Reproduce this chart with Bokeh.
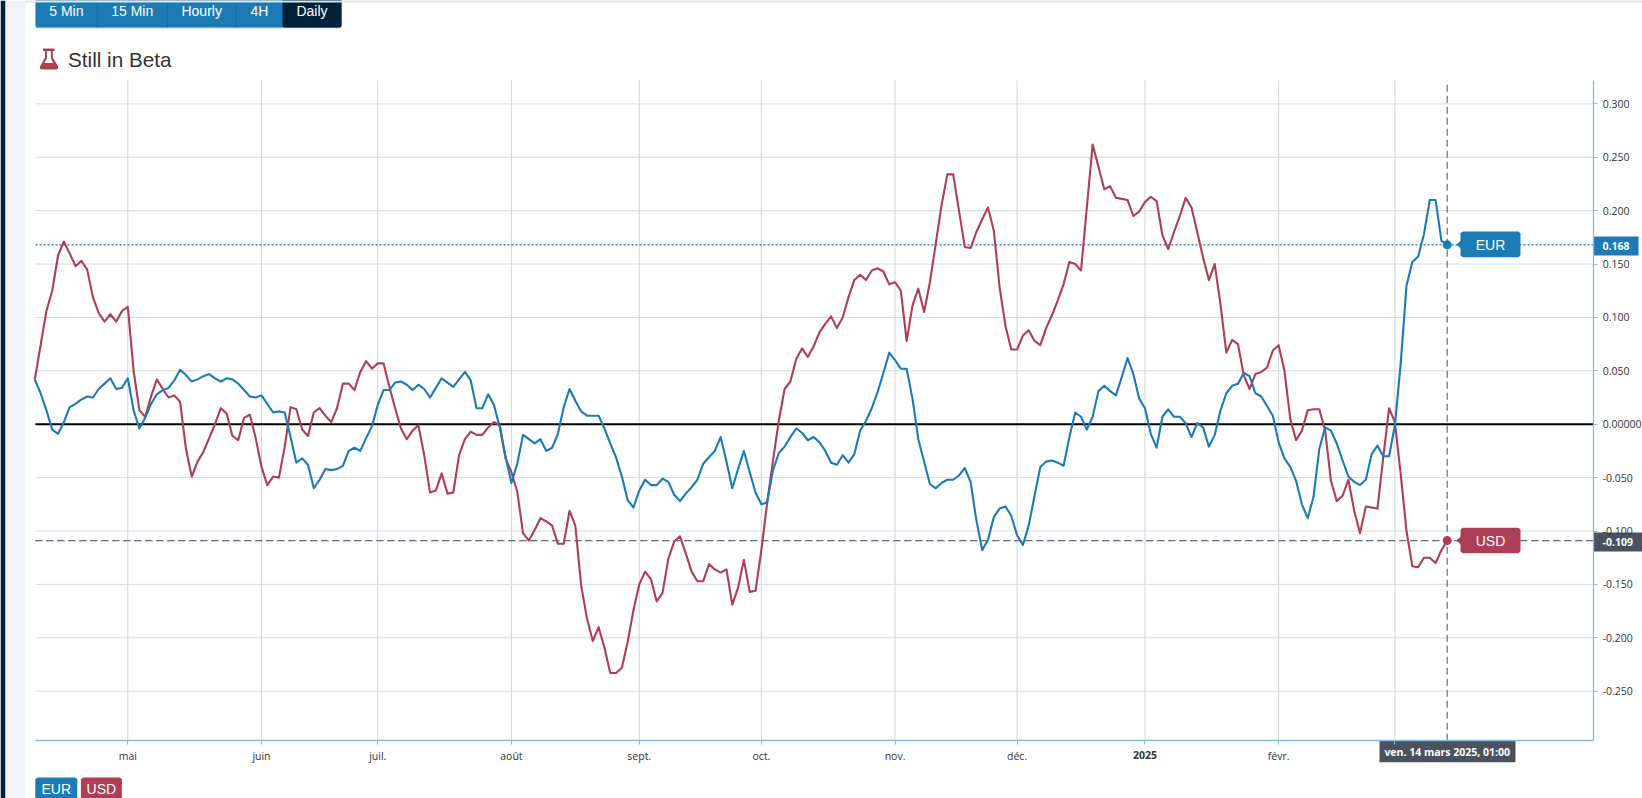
import math
from bokeh.plotting import figure
from bokeh.embed import file_html
from bokeh.resources import INLINE
from bokeh.core.properties import value
from bokeh.models import Range1d, FixedTicker

eur = [
 .042,.029,.013,-.005,-.009,.002,.016,.019,.023,.026,.025,.033,.038,.043,.033,.034,.043,.013,-.004,.006,
 .019,.028,.032,.034,.041,.051,.046,.040,.042,.045,.047,.043,.040,.043,.042,.038,.032,.026,.025,.027,
 .019,.011,.012,.011,-.012,-.036,-.032,-.038,-.060,-.052,-.042,-.043,-.042,-.039,-.025,-.022,-.025,-.013,-.002,.018,
 .032,.032,.039,.040,.037,.032,.037,.033,.025,.034,.043,.039,.035,.042,.049,.041,.015,.015,.028,.018,
 -.003,-.031,-.055,-.037,-.010,-.014,-.018,-.014,-.025,-.022,-.009,.016,.033,.022,.012,.008,.008,.008,-.004,-.018,
 -.031,-.049,-.071,-.078,-.062,-.052,-.057,-.057,-.051,-.054,-.066,-.072,-.065,-.059,-.052,-.037,-.031,-.025,-.012,-.035,
 -.060,-.042,-.025,-.045,-.064,-.075,-.073,-.043,-.027,-.021,-.012,-.004,-.008,-.015,-.012,-.017,-.025,-.036,-.038,-.029,
 -.036,-.028,-.006,.003,.015,.030,.048,.067,.060,.052,.052,.024,-.014,-.035,-.056,-.060,-.055,-.052,-.052,-.048,
 -.041,-.054,-.090,-.118,-.108,-.087,-.079,-.077,-.086,-.104,-.113,-.095,-.067,-.040,-.035,-.034,-.036,-.039,-.012,.011,
 .007,-.005,.007,.031,.036,.031,.027,.044,.062,.047,.024,.015,-.009,-.022,.007,.014,.007,.007,.001,-.012,
 .001,-.003,-.021,-.010,.013,.029,.036,.038,.048,.045,.029,.026,.017,.008,-.017,-.032,-.040,-.053,-.075,-.088,
 -.068,-.023,-.003,-.006,-.018,-.034,-.049,-.054,-.057,-.052,-.028,-.020,-.030,-.030,-.001,.057,.130,.152,.157,.178,
 .210,.210,.172,.168,
]
usd = [
 .042,.074,.106,.125,.158,.171,.160,.148,.153,.145,.119,.104,.096,.103,.096,.106,.110,.050,.013,.007,
 .026,.042,.033,.025,.027,.021,-.023,-.049,-.035,-.026,-.013,.000,.015,.010,-.011,-.015,.006,.009,-.013,-.040,
 -.057,-.049,-.050,-.021,.016,.014,-.005,-.011,.011,.015,.008,.002,.015,.038,.038,.032,.049,.059,.052,.057,
 .057,.035,.015,-.004,-.014,-.006,-.001,-.029,-.064,-.062,-.046,-.065,-.064,-.029,-.014,-.007,-.010,-.010,-.003,.002,
 -.001,-.032,-.045,-.063,-.102,-.109,-.099,-.088,-.091,-.095,-.112,-.112,-.081,-.095,-.151,-.182,-.203,-.190,-.209,-.233,
 -.233,-.228,-.204,-.174,-.150,-.138,-.145,-.166,-.158,-.126,-.110,-.105,-.121,-.138,-.147,-.147,-.131,-.136,-.139,-.136,
 -.169,-.153,-.127,-.157,-.156,-.118,-.074,-.034,.003,.033,.040,.061,.071,.063,.073,.086,.094,.101,.090,.100,
 .119,.135,.140,.135,.144,.146,.143,.131,.133,.125,.078,.111,.127,.105,.133,.169,.205,.234,.234,.200,
 .166,.165,.180,.192,.203,.181,.128,.092,.070,.070,.083,.088,.078,.074,.090,.102,.116,.131,.152,.150,
 .144,.203,.262,.241,.220,.223,.212,.211,.210,.195,.199,.208,.213,.209,.177,.164,.180,.195,.212,.203,
 .180,.156,.135,.150,.112,.067,.079,.075,.046,.033,.047,.049,.053,.069,.074,.050,.005,-.015,-.006,.013,
 .014,.014,-.006,-.053,-.072,-.067,-.052,-.081,-.102,-.077,-.078,-.079,-.031,.015,.002,-.047,-.100,-.133,-.134,-.125,
 -.125,-.130,-.118,-.109,
]
month_ticks = [16, 39, 59, 82, 104, 125, 148, 169, 191, 214, 234]
month_labels = ["mai", "juin", "juil.", "août", "sept.", "oct.", "nov.", "déc.", "", "févr.", ""]
year_tick = 191
year_label = "2025"
y_ticks = [0.3, 0.25, 0.2, 0.15, 0.1, 0.05, 0.0, -0.05, -0.1, -0.15, -0.2, -0.25]
y_labels = ["0.300", "0.250", "0.200", "0.150", "0.100", "0.050", "0.00000", "-0.050", "-0.100", "-0.150", "-0.200", "-0.250"]
buttons = ["5 Min", "15 Min", "Hourly", "4H", "Daily"]
button_edges = [35, 96.7, 166.7, 235.7, 282, 341]
date_label = "ven. 14 mars 2025, 01:00"

BLUE, RED, DARK, SLATE = "#1c7ab5", "#ae3e55", "#02223a", "#4a5260"
GRID_H, GRID_V, AXIS = "#d8dadd", "#ccd6dd", "#86bbd8"
TICK_FONT = "Open Sans"

# plot area limits, in data units
X0, X1 = 0.12, 268.2
Y0, Y1 = -0.2965, 0.3219
last = len(eur) - 1
xs = list(range(len(eur)))

p = figure(width=1642, height=798, output_backend="svg", toolbar_location=None,
           x_range=Range1d(-5.90, 276.6), y_range=Range1d(-0.3505, 0.3968),
           y_axis_location="right", min_border=0, margin=0, outline_line_color=None)
p.extra_x_ranges = {"page": Range1d(0, 1642)}
p.extra_y_ranges = {"page": Range1d(798, 0)}
p.background_fill_color = "white"
p.border_fill_color = "white"
p.grid.visible = False

p.xaxis.ticker = FixedTicker(ticks=month_ticks)
p.xaxis.major_label_overrides = dict(zip(month_ticks, month_labels))
p.xaxis.fixed_location = Y0
p.xaxis.bounds = (X0, X1)
p.yaxis.ticker = FixedTicker(ticks=y_ticks)
p.yaxis.major_label_overrides = dict(zip(y_ticks, y_labels))
p.yaxis.fixed_location = X1
p.yaxis.bounds = (Y0, Y1)
for ax in (p.xaxis[0], p.yaxis[0]):
    ax.axis_line_color = AXIS
    ax.axis_line_width = 1.3
    ax.major_tick_line_color = AXIS
    ax.minor_tick_line_color = None
    ax.major_tick_in = 0
    ax.major_tick_out = 4
    ax.major_label_text_font = TICK_FONT
    ax.major_label_text_font_size = "10.5px"
    ax.major_label_text_color = "#333333"
    ax.major_label_standoff = 5
p.yaxis[0].major_tick_line_color = "#aab4bb"
p.xaxis[0].major_label_standoff = 4

# grid lines
p.segment(x0=month_ticks, y0=[Y0] * len(month_ticks), x1=month_ticks, y1=[Y1] * len(month_ticks),
          line_color=GRID_V, line_width=1)
p.segment(x0=[X0] * len(y_ticks), y0=y_ticks, x1=[X1] * len(y_ticks), y1=y_ticks, line_color=GRID_H, line_width=1)

# zero and last-value lines
p.line([X0, X1], [0, 0], line_color="black", line_width=2)
p.line([X0, X1], [eur[-1]] * 2, line_color="#0f6fae", line_width=1.3, line_dash="2 2")
p.line([X0, X1], [usd[-1]] * 2, line_color="#5f6f80", line_width=1.2, line_dash="7 4")
p.line([X0, X1], [usd[-1]] * 2, line_color=RED, line_width=1.2, line_dash="1 10")

p.line(xs, usd, line_color=RED, line_width=2.1, line_join="round")
p.line(xs, eur, line_color=BLUE, line_width=2.1, line_join="round")
p.line([last, last], [Y0, Y1], line_color="#5f6f80", line_width=1.2, line_dash="7 4")
p.scatter([last], [eur[-1]], size=9, color=BLUE, line_color=None)
p.scatter([last], [usd[-1]], size=9, color=RED, line_color=None)

PAGE = dict(x_range_name="page", y_range_name="page")


def box(l, t, r, b, color):
    p.quad(left=[l], right=[r], top=[t], bottom=[b], fill_color=color, line_color=None, **PAGE)


def rbox(l, t, r, b, color, rad=3):
    ax, ay = [], []
    for cx, cy, a0 in [(r - rad, t + rad, -90), (r - rad, b - rad, 0), (l + rad, b - rad, 90), (l + rad, t + rad, 180)]:
        for k in range(5):
            a = math.radians(a0 + k * 22.5)
            ax.append(cx + rad * math.cos(a))
            ay.append(cy + rad * math.sin(a))
    p.patch(ax, ay, fill_color=color, line_color=None, **PAGE)


def poly(px, py, color):
    p.patch(px, py, fill_color=color, line_color=None, **PAGE)


def text(x, y, s, size="14px", color="white", font="Liberation Sans", align="center", style="normal"):
    p.text(x=[x], y=[y], text=[s], text_font=value(font), text_font_size=value(size), text_color=color,
           text_align=align, text_baseline="middle", text_font_style=style, **PAGE)


# page chrome
box(0, 0, 5, 798, DARK)
box(5, 0, 25, 798, "#f0f4f8")
box(25, 0, 1642, 2, "#e4e6e8")

# timeframe buttons
rbox(35, -4, 341, 28, "#d5d8da", 2)
rbox(35, -4, 341, 27, BLUE, 2)
for i, b in enumerate(buttons):
    if b == "Daily":
        rbox(button_edges[i], -4, button_edges[i + 1], 27, DARK, 2)
    if 0 < i < 4:
        box(button_edges[i] - 0.5, 2, button_edges[i] + 0.5, 27, "#18699c")
    text((button_edges[i] + button_edges[i + 1]) / 2, 10.5, b)
box(25, 0, 1642, 2, "#e4e6e8")

# title with flask icon
poly([42.5, 54, 54, 52.3, 52.3, 57.6, 57.6, 56, 41, 39.4, 39.4, 44.5, 44.5, 42.5],
     [48, 48, 50.5, 50.5, 57, 66, 68, 69, 69, 68, 66, 57, 50.5, 50.5], RED)
poly([46.4, 50.4, 50.4, 53, 43.8, 46.4], [50.5, 50.5, 58, 62.5, 62.5, 58], "white")
text(67.5, 59, "Still in Beta", size="20.7px", color="#333333", align="left")

# end-of-line flags
for (tp, bt, mid, s, col) in [(231, 256.7, 244, "EUR", BLUE), (527.3, 552.7, 540, "USD", RED)]:
    rbox(1460, tp, 1520, bt, col, 3)
    poly([1455.7, 1460.5, 1460.5], [mid, mid - 4, mid + 4], col)
    text(1490, mid, s)

# y value tags
box(1593.3, 236, 1638, 255, BLUE)
text(1602, 245.3, f"{eur[-1]:.3f}", size="10.5px", font=TICK_FONT, align="left", style="bold")
box(1593.3, 532, 1642, 551, SLATE)
text(1602, 541.3, f"{usd[-1]:.3f}", size="10.5px", font=TICK_FONT, align="left", style="bold")

# crosshair date tag
box(1379, 740, 1515, 761.7, SLATE)
text(1446.7, 751, date_label, size="10.5px", font=TICK_FONT, style="bold")

# bold year label on the date axis
p.text(x=[year_tick], y=[754.3], text=[year_label], text_font=value(TICK_FONT), text_font_size=value("10.5px"),
       text_font_style="bold", text_color="#333333", text_align="center", text_baseline="middle",
       y_range_name="page")

# legend buttons
rbox(34.8, 777, 76.8, 804, BLUE, 3)
rbox(80.4, 777, 121.4, 804, RED, 3)
text(55.8, 788.5, "EUR")
text(100.9, 788.5, "USD")

open("out.html", "w").write(file_html(p, INLINE))
